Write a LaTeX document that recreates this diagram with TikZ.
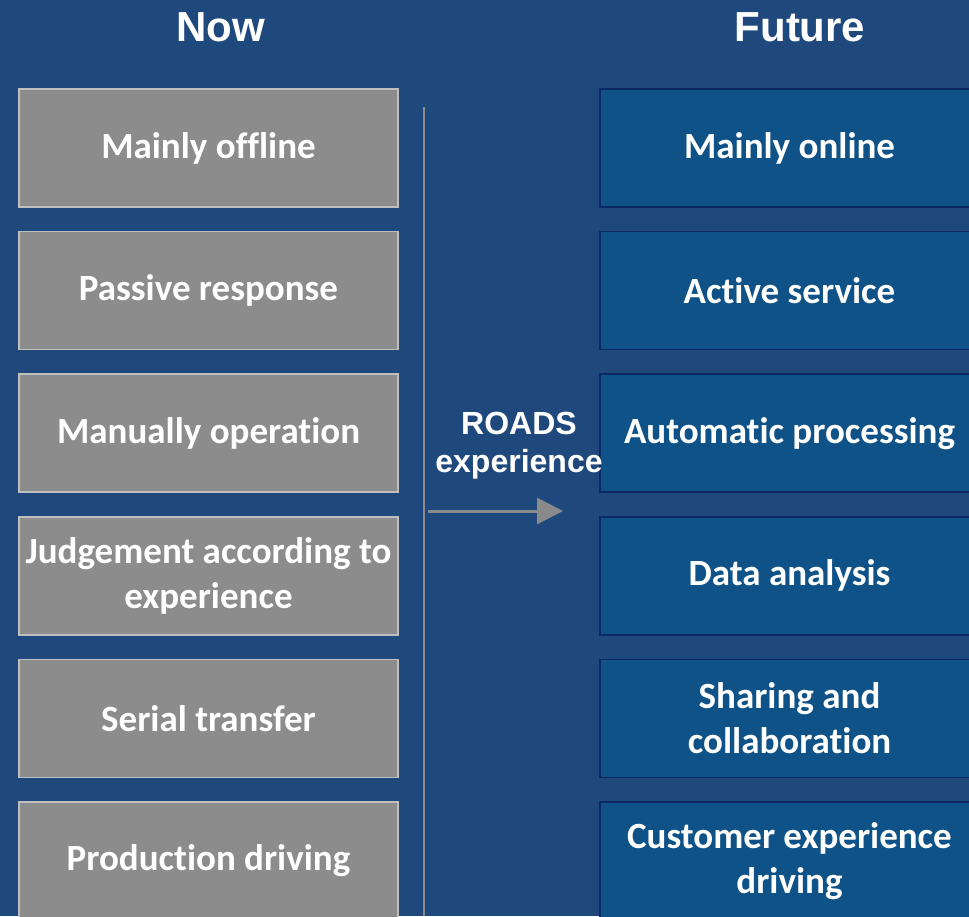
\documentclass[tikz,border=0pt]{standalone}
\usepackage{fontspec}
\setmainfont{Carlito}[Ligatures=NoCommon]
\newfontfamily\headfont{Liberation Sans}
\usepackage{xcolor}
\usetikzlibrary{arrows.meta,positioning}

\definecolor{bgblue}{HTML}{1F497D}
\definecolor{nowgray}{HTML}{8C8C8C}
\definecolor{nowline}{HTML}{BFBFBF}
\definecolor{futblue}{HTML}{0E5287}
\definecolor{futline}{HTML}{0B2865}
\definecolor{midgray}{HTML}{8A8A8A}

\begin{document}
\begin{tikzpicture}[x=1pt, y=-1pt, node distance=142.6pt, inner sep=0pt,
  box/.style={rectangle, minimum width=379pt, minimum height=118pt, line width=1.5pt,
    text=white, align=center, font=\bfseries\fontsize{37}{45}\selectfont},
  nowbox/.style={box, fill=nowgray, draw=nowline},
  futbox/.style={box, fill=futblue, draw=futline},
  head/.style={text=white, font=\headfont\bfseries\fontsize{42}{48}\selectfont}]
\useasboundingbox (0,0) rectangle (969,916);
\fill [bgblue] (0,0) rectangle (969,916);

\node [head] (now) at (221,27) {Now};
\node [head] (future) at (800,27) {Future};

\node [nowbox] (n1) at (208.5,148) {Mainly offline};
\node [nowbox] (n2) [below of=n1] {Passive response};
\node [nowbox] (n3) [below of=n2] {Manually operation};
\node [nowbox] (n4) [below of=n3] {Judgement according to\\experience};
\node [nowbox] (n5) [below of=n4] {Serial transfer};
\node [nowbox] (n6) [below of=n5] {Production driving};

\node [futbox] (f1) at (789.5,148) {Mainly online};
\node [futbox] (f2) [below of=f1] {Active service};
\node [futbox] (f3) [below of=f2] {Automatic processing};
\node [futbox] (f4) [below of=f3] {Data analysis};
\node [futbox] (f5) [below of=f4] {Sharing and\\collaboration};
\node [futbox] (f6) [below of=f5] {Customer experience\\driving};

\coordinate (top) at (424,107);
\coordinate (bot) at (424,916);
\draw [midgray, line width=2pt] (top) -- (bot);

\node [text=white, align=center, font=\headfont\bfseries\fontsize{32}{38}\selectfont]
  (roads) at (519,446) {ROADS\\experience};
\coordinate (from) at (428,511);
\coordinate (to) at (563,511);
\draw [midgray, line width=3pt, -{Triangle[length=26pt,width=26pt]}] (from) -- (to);

\end{tikzpicture}
\end{document}
